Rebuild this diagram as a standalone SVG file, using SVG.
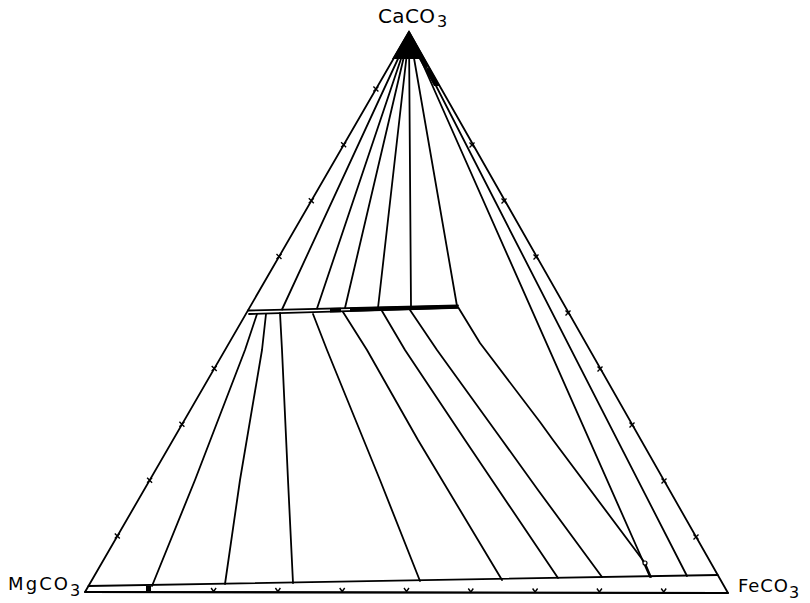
<svg xmlns="http://www.w3.org/2000/svg" width="810" height="603" viewBox="0 0 810 603">
<style>
.ln{fill:none;stroke:#000;stroke-width:1.8;stroke-linejoin:round;stroke-linecap:round}
.tk{fill:none;stroke:#000;stroke-width:1.4}
.lbl{font-family:"DejaVu Sans","Liberation Sans",sans-serif;fill:#000}
</style>
<defs>
<path id="tick" class="tk" d="M-2.5,-2.5 L2.5,2.5 M-2.5,2.5 L2.5,-2.5"/>
<path id="vt" class="tk" d="M-2.5,-3.5 L0,0 L2.5,-3.5"/>
</defs>
<rect width="810" height="603" fill="#fff"/>
<g id="frame">
<path class="ln" d="M85,592 L409,32 L728,593 Z"/>
<path fill="#000" d="M409,30 L392,59 L419,59 L434,86 L440,86 Z"/>
<circle cx="427" cy="68" r="1.2" fill="#fff"/>
</g>
<g id="connectors">
<path class="ln" d="M409,35 L282,309.5"/>
<path class="ln" d="M409,35 L317,308.5"/>
<path class="ln" d="M409,35 L345,308"/>
<path class="ln" d="M409,35 L378,308"/>
<path class="ln" d="M409,35 L411,307"/>
<path class="ln" d="M410,35 L457,306"/>
<path class="ln" d="M410,35 L650,577"/>
<path class="ln" d="M410,35 L687,576"/>
<path class="ln" d="M257,314 L245,350 L195,480 L152,586"/>
<path class="ln" d="M266,314 L262,350 L240,480 L225,584"/>
<path class="ln" d="M280,313 L282,350 L288,480 L293,583"/>
<path class="ln" d="M313,314 L327,350 L380,480 L420,581"/>
<path class="ln" d="M343,312 L367,350 L418,440 L502,580"/>
<path class="ln" d="M382,311 L405,350 L465,440 L558,578"/>
<path class="ln" d="M410,310 L437,350 L502,440 L538,490 L602,577"/>
<path class="ln" d="M458,307 L480,343 L540,422 L553,440 L645,563 L651,577"/>
<circle cx="645" cy="563" r="2" fill="#fff" stroke="#000" stroke-width="1.2"/>
</g>
<g id="mid-band">
<path class="ln" d="M248,310.5 L458,305.5"/>
<path class="ln" d="M249,314 L458,307.8"/>
<path fill="#000" d="M330,308 L341,307.8 L341,312.2 L330,312.5 Z"/>
<path fill="#000" d="M350,307.6 L458,305 L458,308.5 L350,311.8 Z"/>
</g>
<g id="base-band">
<path class="ln" d="M88.5,586 L717.7,575"/>
<path class="ln" d="M85,592 L728,593"/>
<rect x="146" y="586" width="5" height="5" fill="#000"/>
<use href="#vt" x="213.6" y="591.5"/>
<use href="#vt" x="277.9" y="591.5"/>
<use href="#vt" x="342.2" y="591.5"/>
<use href="#vt" x="406.5" y="591.5"/>
<use href="#vt" x="470.8" y="592"/>
<use href="#vt" x="535.1" y="592"/>
<use href="#vt" x="599.4" y="592"/>
<use href="#vt" x="663.7" y="592"/>
</g>
<g id="side-ticks">
<use href="#tick" x="117.3" y="536.1"/>
<use href="#tick" x="149.6" y="480.2"/>
<use href="#tick" x="181.9" y="424.3"/>
<use href="#tick" x="214.2" y="368.4"/>
<use href="#tick" x="279" y="256.6"/>
<use href="#tick" x="311.3" y="200.7"/>
<use href="#tick" x="343.6" y="144.8"/>
<use href="#tick" x="375.9" y="88.9"/>
<use href="#tick" x="696" y="537"/>
<use href="#tick" x="664" y="481"/>
<use href="#tick" x="632" y="425"/>
<use href="#tick" x="600" y="369"/>
<use href="#tick" x="568" y="313"/>
<use href="#tick" x="536" y="257"/>
<use href="#tick" x="504" y="201"/>
<use href="#tick" x="472" y="145"/>
</g>
<g id="node-caco3">
<text class="lbl" x="378" y="23" font-size="20" textLength="57" lengthAdjust="spacing">CaCO</text>
<text class="lbl" x="437" y="27" font-size="16">3</text>
</g>
<g id="node-mgco3">
<text class="lbl" x="8" y="589.5" font-size="18" textLength="60" lengthAdjust="spacing">MgCO</text>
<text class="lbl" x="70" y="596" font-size="16">3</text>
</g>
<g id="node-feco3">
<text class="lbl" x="738" y="592" font-size="18" textLength="50" lengthAdjust="spacing">FeCO</text>
<text class="lbl" x="789" y="598" font-size="16">3</text>
</g>
</svg>
